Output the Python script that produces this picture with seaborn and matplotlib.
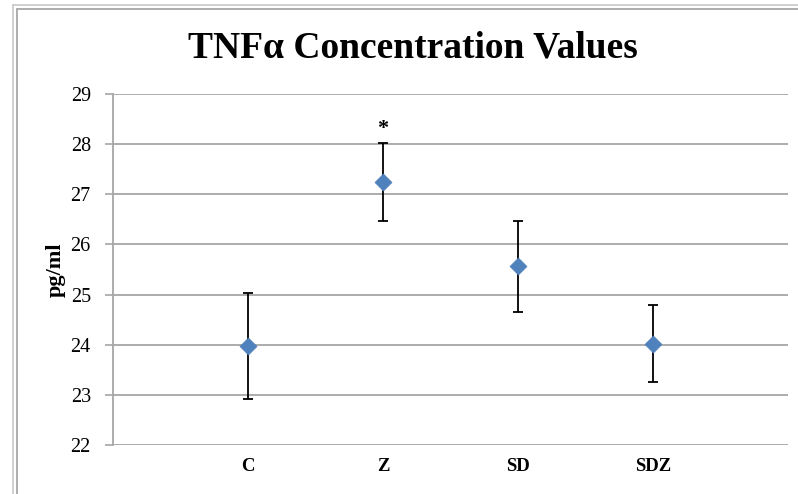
import matplotlib
matplotlib.use("Agg")
import matplotlib.pyplot as plt
from matplotlib.lines import Line2D
import seaborn as sns
import pandas as pd

categories = ["C", "Z", "SD", "SDZ"]
means = [23.97, 27.25, 25.56, 24.02]
errors = [1.06, 0.78, 0.91, 0.77]
y_ticks = [22, 23, 24, 25, 26, 27, 28, 29]
title = "TNF\u03b1 Concentration Values"
y_label = "pg/ml"
significance = ["", "*", "", ""]

sns.set_theme(style="white")
plt.rcParams["font.family"] = ["Liberation Serif", "DejaVu Serif"]
plt.rcParams["text.color"] = "black"
plt.rcParams["axes.labelcolor"] = "black"
plt.rcParams["xtick.color"] = "black"
plt.rcParams["ytick.color"] = "black"

df = pd.DataFrame({"cat": categories, "mean": means, "err": errors,
                   "pos": list(range(1, len(categories) + 1))})

W, H = 798, 494
fig = plt.figure(figsize=(W / 100, H / 100), dpi=100)
ax = fig.add_axes([113 / W, 1 - 445 / H, (788 - 113) / W, (445 - 94) / H])

grid_c = "#A6A6A6"
for t in y_ticks:
    ax.axhline(t, color=grid_c, lw=1.3, zorder=0)

ax.errorbar(df["pos"], df["mean"], yerr=df["err"], fmt="none", ecolor="black",
            elinewidth=1.3, capsize=3.4, capthick=1.3, zorder=2)
sns.scatterplot(data=df, x="pos", y="mean", marker="D", s=75, color="#4F81BD",
                edgecolor="#4F81BD", linewidth=0.5, ax=ax, zorder=3, legend=False)

for p, m, e, s in zip(df["pos"], df["mean"], df["err"], significance):
    if s:
        ax.text(p, m + e + 0.08, s, ha="center", va="bottom", fontsize=16,
                fontweight="bold", color="black")

ax.set_xlim(0, len(categories) + 1)
ax.set_ylim(min(y_ticks), max(y_ticks))
ax.set_xticks(df["pos"])
ax.set_xticklabels(categories, fontweight="bold", fontsize=13.5)
ax.set_yticks(y_ticks)
ax.set_yticklabels([str(t) for t in y_ticks], fontsize=14.5)
ax.tick_params(axis="y", length=6, width=1.2, color=grid_c, pad=10, left=True,
               labelcolor="black")
ax.tick_params(axis="x", length=0, pad=9, labelcolor="black")
ax.set_xlabel("")
ax.set_ylabel(y_label, fontweight="bold", fontsize=16, va="center")
ax.yaxis.set_label_coords((56 - 113) / (788 - 113), 0.5)

for side in ["top", "right", "bottom"]:
    ax.spines[side].set_visible(False)
ax.spines["left"].set_color(grid_c)
ax.spines["left"].set_linewidth(1.3)

fig.text(413 / W, 1 - 58 / H, title, ha="center", va="baseline",
         fontsize=27, fontweight="bold", color="black")

# chart area frame (cropped at right and bottom)
fig.add_artist(Line2D([13 / W, 13 / W], [0, 1 - 5 / H], color="#C8C8C8", lw=1.2))
fig.add_artist(Line2D([13 / W, 1], [1 - 5 / H, 1 - 5 / H], color="#C8C8C8", lw=1.2))
fig.add_artist(Line2D([17 / W, 17 / W], [0, 1 - 9 / H], color="#A0A0A0", lw=1.2))
fig.add_artist(Line2D([17 / W, 1], [1 - 9 / H, 1 - 9 / H], color="#A0A0A0", lw=1.2))

fig.savefig("out.png", dpi=100)
